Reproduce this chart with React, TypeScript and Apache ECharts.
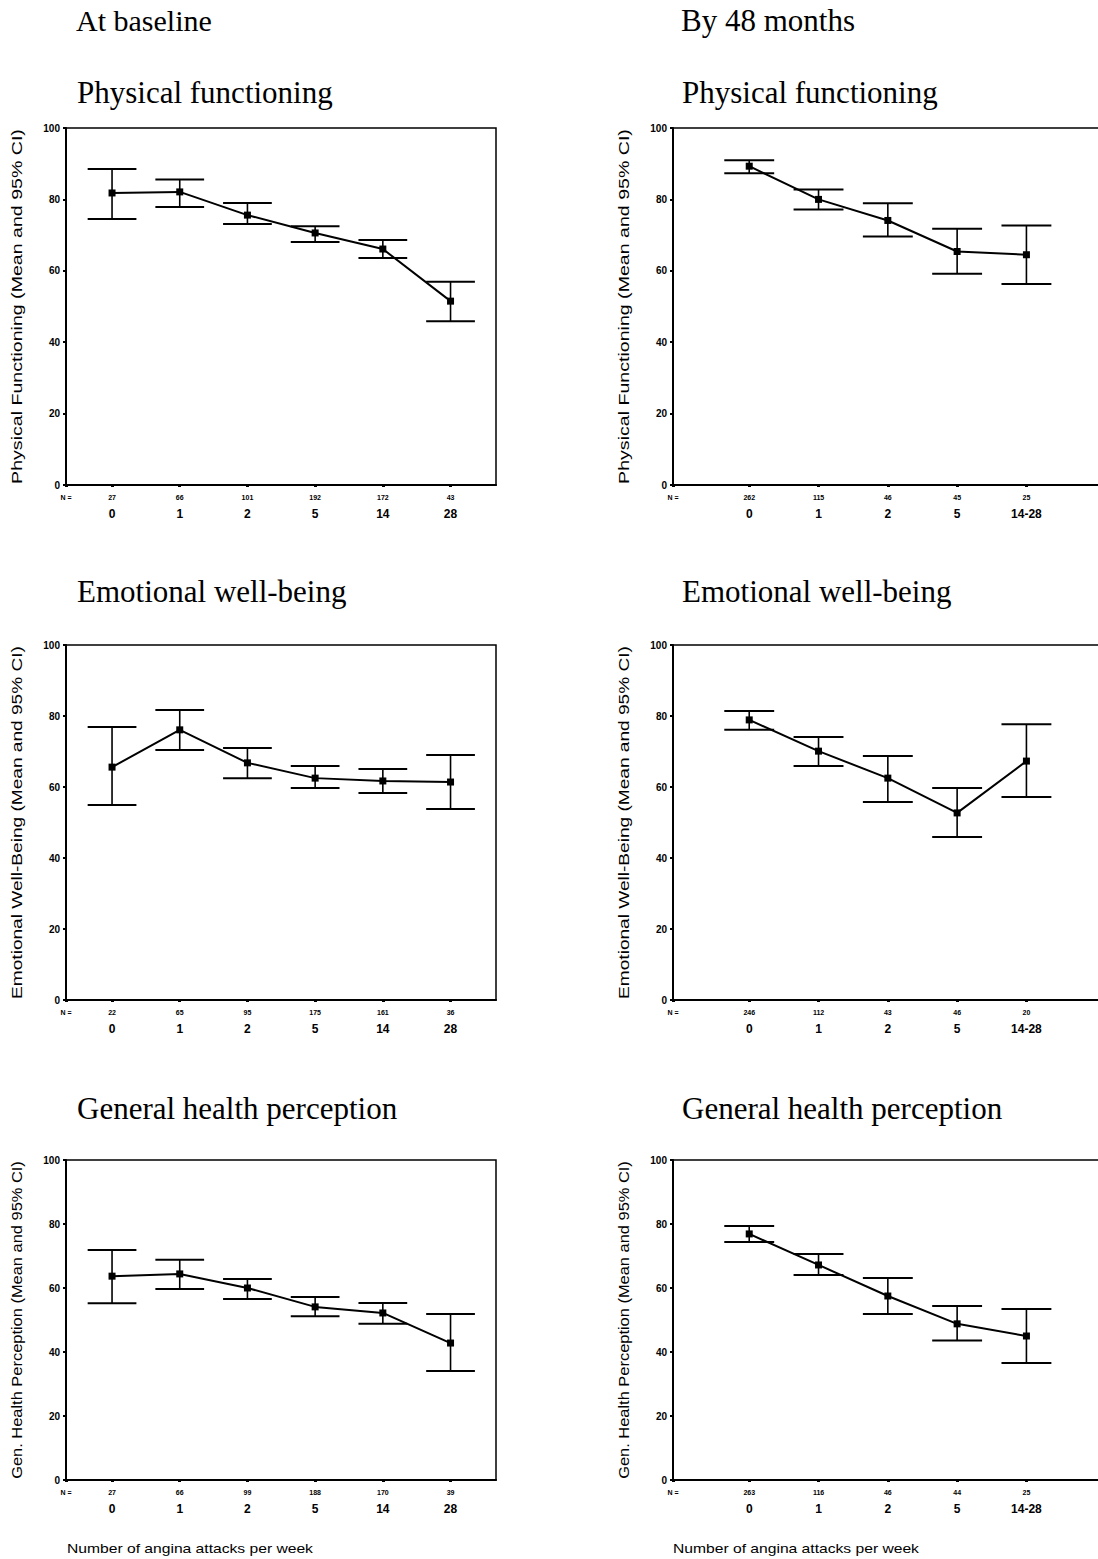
import React, { useEffect, useRef } from "react";
import * as echarts from "echarts";

// ---------- data ----------
const catsBase = ["0", "1", "2", "5", "14", "28"];
const cats48 = ["0", "1", "2", "5", "14-28"];

const nPhysBase = [27, 66, 101, 192, 172, 43];
const meanPhysBase = [81.8, 82.1, 75.6, 70.6, 66.1, 51.5];
const loPhysBase = [74.5, 77.9, 73.1, 68.1, 63.6, 45.9];
const hiPhysBase = [88.5, 85.6, 79.0, 72.5, 68.6, 56.9];

const nPhys48 = [262, 115, 46, 45, 25];
const meanPhys48 = [89.3, 80.0, 74.1, 65.4, 64.5];
const loPhys48 = [87.3, 77.2, 69.6, 59.2, 56.3];
const hiPhys48 = [91.0, 82.8, 78.9, 71.8, 72.7];

const nEmoBase = [22, 65, 95, 175, 161, 36];
const meanEmoBase = [65.6, 76.1, 66.8, 62.5, 61.7, 61.4];
const loEmoBase = [54.9, 70.4, 62.5, 59.7, 58.3, 53.8];
const hiEmoBase = [76.9, 81.7, 71.0, 65.9, 65.1, 69.0];

const nEmo48 = [246, 112, 43, 46, 20];
const meanEmo48 = [78.9, 70.1, 62.5, 52.7, 67.3];
const loEmo48 = [76.1, 65.9, 55.8, 45.9, 57.2];
const hiEmo48 = [81.4, 74.1, 68.7, 59.7, 77.7];

const nGenBase = [27, 66, 99, 188, 170, 39];
const meanGenBase = [63.7, 64.4, 60.0, 54.1, 52.2, 42.8];
const loGenBase = [55.2, 59.7, 56.6, 51.2, 48.8, 34.1];
const hiGenBase = [71.9, 68.8, 62.8, 57.2, 55.3, 51.9];

const nGen48 = [263, 116, 46, 44, 25];
const meanGen48 = [76.9, 67.2, 57.5, 48.8, 45.0];
const loGen48 = [74.4, 64.1, 51.9, 43.6, 36.6];
const hiGen48 = [79.4, 70.6, 63.1, 54.4, 53.4];

const yTicks = { min: 0, max: 100, interval: 20 };

const colHeadings = ["At baseline", "By 48 months"];
const rowHeadings = ["Physical functioning", "Emotional well-being", "General health perception"];
const yTitles = [
  "Physical Functioning (Mean and 95% CI)",
  "Emotional Well-Being (Mean and 95% CI)",
  "Gen. Health Perception (Mean and 95% CI)",
];
const xTitle = "Number of angina attacks per week";

const panelData = [
  { cats: catsBase, n: nPhysBase, mean: meanPhysBase, lo: loPhysBase, hi: hiPhysBase },
  { cats: cats48, n: nPhys48, mean: meanPhys48, lo: loPhys48, hi: hiPhys48 },
  { cats: catsBase, n: nEmoBase, mean: meanEmoBase, lo: loEmoBase, hi: hiEmoBase },
  { cats: cats48, n: nEmo48, mean: meanEmo48, lo: loEmo48, hi: hiEmo48 },
  { cats: catsBase, n: nGenBase, mean: meanGenBase, lo: loGenBase, hi: hiGenBase },
  { cats: cats48, n: nGen48, mean: meanGen48, lo: loGen48, hi: hiGen48 },
];

// ---------- layout ----------
const CANVAS_W = 1160;
const colLeft = [66, 673];
const colWidth = [430, 450];
const colXMin = [-0.68, -1.1];
const colSpacing = [67.7, 69.3];
const rowTop = [128, 645, 1160];
const rowHeight = [357, 355, 320];
const headingX = [77, 682];
const headingY = [92, 591, 1108];
const colHeadingSize = [30, 31];

const SANS = 'Arial, "Liberation Sans", Helvetica, sans-serif';
const SERIF = '"Times New Roman", "Liberation Serif", serif';

function measure(text: string, font: string) {
  const c = document.createElement("canvas").getContext("2d");
  if (!c) return text.length * 7;
  c.font = font;
  return c.measureText(text).width;
}

function buildOption() {
  const grids: any[] = [];
  const xAxes: any[] = [];
  const yAxes: any[] = [];
  const series: any[] = [];
  const graphics: any[] = [];

  panelData.forEach((p, i) => {
    const col = i % 2;
    const row = Math.floor(i / 2);
    const min = colXMin[col];
    const max = min + colWidth[col] / colSpacing[col];
    const positions = p.cats.map((_, k) => k);
    grids.push({
      left: colLeft[col],
      top: rowTop[row],
      width: colWidth[col],
      height: rowHeight[row],
      show: true,
      borderColor: "#000",
      borderWidth: 1.5,
      backgroundColor: "transparent",
    });
    xAxes.push({
      type: "value",
      gridIndex: i,
      min,
      max,
      splitLine: { show: false },
      axisLine: { show: true, onZero: false, lineStyle: { color: "#000", width: 2 } },
      axisTick: {
        show: true,
        customValues: [min, ...positions],
        length: 2,
        lineStyle: { color: "#000", width: 3 },
      },
      axisLabel: {
        customValues: [min, ...positions],
        margin: 6,
        color: "#000",
        formatter: (v: number) => {
          const idx = positions.indexOf(Math.round(v));
          if (Math.abs(v - Math.round(v)) > 0.01 || idx < 0) return "{n|N =}";
          return `{n|${p.n[idx]}}\n{c|${p.cats[idx]}}`;
        },
        rich: {
          n: { fontSize: 7, fontWeight: "bold", fontFamily: SANS, lineHeight: 12, color: "#000" },
          c: { fontSize: 12, fontWeight: "bold", fontFamily: SANS, lineHeight: 22, color: "#000" },
        },
      },
    });
    yAxes.push({
      type: "value",
      gridIndex: i,
      min: yTicks.min,
      max: yTicks.max,
      interval: yTicks.interval,
      splitLine: { show: false },
      axisLine: { show: true, onZero: false, lineStyle: { color: "#000", width: 2 } },
      axisTick: { show: true, length: 3, lineStyle: { color: "#000", width: 2 } },
      axisLabel: { color: "#000", fontSize: 10, fontWeight: "bold", fontFamily: SANS, margin: 6 },
    });
    series.push({
      type: "custom",
      xAxisIndex: i,
      yAxisIndex: i,
      data: p.cats.map((_, k) => [k, p.lo[k], p.hi[k]]),
      renderItem: (params: any, api: any) => {
        const x = api.value(0);
        const lo = api.coord([x, api.value(1)]);
        const hi = api.coord([x, api.value(2)]);
        const half = api.size([1, 0])[0] * 0.36;
        const st = { stroke: "#000", lineWidth: 1.6 };
        const cap = { stroke: "#000", lineWidth: 2 };
        return {
          type: "group",
          children: [
            { type: "line", shape: { x1: lo[0], y1: lo[1], x2: hi[0], y2: hi[1] }, style: st },
            { type: "line", shape: { x1: hi[0] - half, y1: hi[1], x2: hi[0] + half, y2: hi[1] }, style: cap },
            { type: "line", shape: { x1: lo[0] - half, y1: lo[1], x2: lo[0] + half, y2: lo[1] }, style: cap },
          ],
        };
      },
      z: 2,
    });
    series.push({
      type: "line",
      xAxisIndex: i,
      yAxisIndex: i,
      data: p.mean.map((m, k) => [k, m]),
      symbol: "rect",
      symbolSize: 7,
      itemStyle: { color: "#000" },
      lineStyle: { color: "#000", width: 2 },
      z: 3,
    });

    // y-axis title
    const yFont = `15px ${SANS}`;
    const target = rowHeight[row] - 2;
    const w = measure(yTitles[row], yFont);
    graphics.push({
      type: "text",
      x: col === 0 ? 17 : 624,
      y: rowTop[row] + rowHeight[row] / 2,
      rotation: Math.PI / 2,
      scaleX: target / w,
      style: {
        text: yTitles[row],
        font: yFont,
        fill: "#000",
        textAlign: "center",
        textVerticalAlign: "middle",
      },
    });
  });

  rowHeadings.forEach((h, r) => {
    [0, 1].forEach((c) => {
      graphics.push({
        type: "text",
        x: headingX[c],
        y: headingY[r],
        style: { text: h, font: `31px ${SERIF}`, fill: "#000", textVerticalAlign: "middle" },
      });
    });
  });
  colHeadings.forEach((h, c) => {
    graphics.push({
      type: "text",
      x: headingX[c] - 1,
      y: 20,
      style: { text: h, font: `${colHeadingSize[c]}px ${SERIF}`, fill: "#000", textVerticalAlign: "middle" },
    });
  });
  [67, 673].forEach((x) => {
    const f = `13px ${SANS}`;
    const w = measure(xTitle, f);
    graphics.push({
      type: "text",
      x,
      y: 1548,
      scaleX: 246 / w,
      style: { text: xTitle, font: f, fill: "#000", textVerticalAlign: "middle" },
    });
  });

  return {
    animation: false,
    backgroundColor: "#fff",
    grid: grids,
    xAxis: xAxes,
    yAxis: yAxes,
    series,
    graphic: graphics,
  };
}

export default function App() {
  const ref = useRef<HTMLDivElement>(null);
  useEffect(() => {
    if (!ref.current) return;
    const chart = echarts.init(ref.current, undefined, { renderer: "svg" });
    chart.setOption(buildOption() as any);
    return () => chart.dispose();
  }, []);
  return (
    <div
      style={{
        position: "absolute",
        left: 0,
        top: 0,
        width: 1098,
        height: 1559,
        overflow: "hidden",
        background: "#fff",
      }}
    >
      <div ref={ref} style={{ width: CANVAS_W, height: 1559 }} />
    </div>
  );
}
